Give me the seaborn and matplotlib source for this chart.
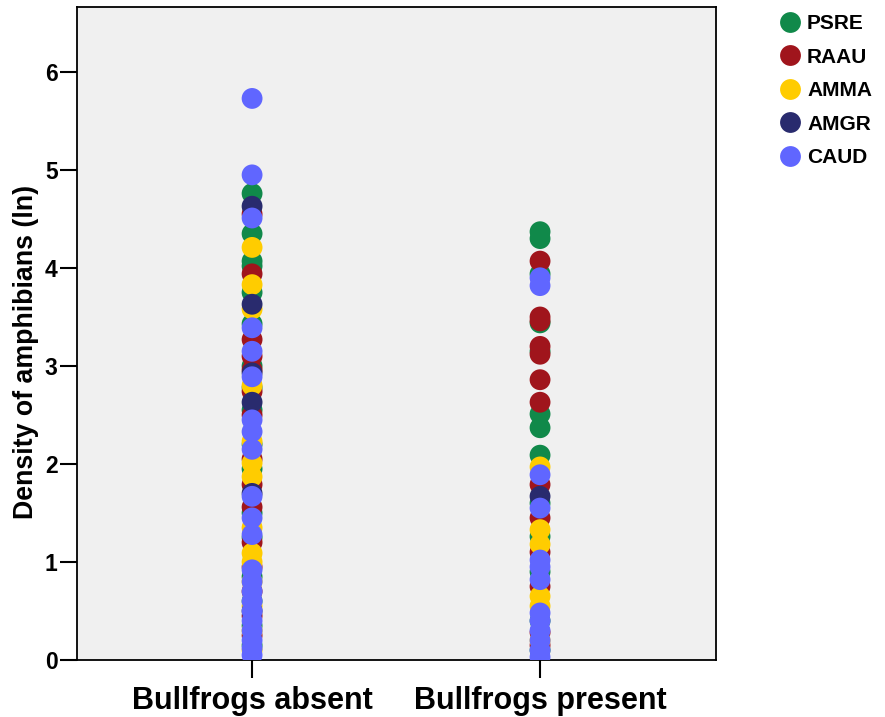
import matplotlib
matplotlib.use("Agg")
import matplotlib.pyplot as plt
import seaborn as sns
import pandas as pd
from matplotlib.lines import Line2D

# ---- data ----
groups = ["Bullfrogs absent", "Bullfrogs present"]
species = ["PSRE", "RAAU", "AMMA", "AMGR", "CAUD"]
colors = ["#10894A", "#A0151C", "#FFCC00", "#292B6E", "#6066FF"]

absent_psre = [4.76, 4.35, 4.07, 4.02, 3.75, 3.43, 3.0, 2.78, 2.55, 2.2, 1.95, 1.5, 1.25, 0.85, 0.6, 0.35, 0.15]
absent_raau = [4.55, 3.94, 3.27, 3.1, 2.96, 2.74, 2.5, 2.05, 1.79, 1.56, 1.2, 0.95, 0.7, 0.45, 0.25]
absent_amma = [4.21, 3.83, 3.58, 2.8, 2.23, 2.01, 1.87, 1.35, 1.09, 1.0, 0.8, 0.55, 0.3, 0.1]
absent_amgr = [4.63, 3.63, 2.93, 2.63, 1.7, 0.5]
absent_caud = [5.73, 4.95, 4.51, 3.39, 3.15, 2.89, 2.45, 2.33, 2.15, 1.67, 1.45, 1.28,
               0.92, 0.8, 0.7, 0.6, 0.5, 0.4, 0.3, 0.2, 0.12, 0.05]

present_psre = [4.37, 4.3, 3.94, 3.44, 3.15, 2.51, 2.37, 2.09, 1.6, 1.26, 0.9, 0.4, 0.1]
present_raau = [4.07, 3.5, 3.46, 3.2, 3.12, 2.86, 2.63, 1.79, 1.45, 1.1, 0.75, 0.28, 0.15]
present_amma = [1.97, 1.33, 1.18, 0.65, 0.55, 0.2]
present_amgr = [1.67]
present_caud = [3.9, 3.82, 1.89, 1.55, 1.02, 0.95, 0.82, 0.48, 0.4, 0.3, 0.2, 0.1, 0.03]

yticks = [0, 1, 2, 3, 4, 5, 6]
ylabel = "Density of amphibians (ln)"

series = {
    ("Bullfrogs absent", "PSRE"): absent_psre,
    ("Bullfrogs absent", "RAAU"): absent_raau,
    ("Bullfrogs absent", "AMMA"): absent_amma,
    ("Bullfrogs absent", "AMGR"): absent_amgr,
    ("Bullfrogs absent", "CAUD"): absent_caud,
    ("Bullfrogs present", "PSRE"): present_psre,
    ("Bullfrogs present", "RAAU"): present_raau,
    ("Bullfrogs present", "AMMA"): present_amma,
    ("Bullfrogs present", "AMGR"): present_amgr,
    ("Bullfrogs present", "CAUD"): present_caud,
}
rows = []
for (g, sp), vals in series.items():
    for v in vals:
        rows.append({"group": g, "species": sp, "density": v})
df = pd.DataFrame(rows)

# ---- style ----
sns.set_theme(style="white")
plt.rcParams["font.family"] = ["Liberation Sans", "DejaVu Sans"]
plt.rcParams["font.weight"] = "bold"
for k in ["text.color", "axes.labelcolor", "xtick.color", "ytick.color", "axes.edgecolor"]:
    plt.rcParams[k] = "black"

fig = plt.figure(figsize=(8.85, 7.17), dpi=100)
ax = fig.add_axes([77 / 885, 1 - 660 / 717, (716 - 77) / 885, (660 - 7) / 717])
ax.set_facecolor("#F0F0F0")

palette = dict(zip(species, colors))
sns.stripplot(data=df, x="group", y="density", hue="species", order=groups,
              hue_order=species, palette=palette, jitter=False, dodge=False,
              size=15, linewidth=0, ax=ax, legend=False)

ax.set_xlim(-0.608, 1.611)
ax.set_ylim(0, 6.663)
ax.set_yticks(yticks)
ax.set_yticklabels([str(t) for t in yticks], fontsize=16.5, fontweight="bold", color="black")
ax.set_xticks([0, 1])
ax.set_xticklabels(groups, fontsize=22, fontweight="bold", color="black")
ax.set_xlabel("")
ax.set_ylabel(ylabel, fontsize=19.3, fontweight="bold", color="black")
ax.yaxis.set_label_coords(-0.059, 0.472)
ax.tick_params(axis="y", direction="out", length=12, width=1.5, color="black", pad=2, left=True)
ax.tick_params(axis="x", direction="out", length=13, width=1.5, color="black", pad=5.5, bottom=True)
for s in ax.spines.values():
    s.set_visible(True)
    s.set_color("black")
    s.set_linewidth(1.3)

handles = [Line2D([0], [0], marker="o", linestyle="none", markersize=15,
                  markerfacecolor=c, markeredgewidth=0) for c in colors]
fig.legend(handles, species, loc="upper left", bbox_to_anchor=(780 / 885, 1 - 14 / 717),
           frameon=False, prop={"size": 15, "weight": "bold"}, handlelength=1.0,
           handletextpad=0.3, labelspacing=0.7, borderpad=0, borderaxespad=0,
           labelcolor="black")

fig.savefig("out.png", dpi=100)
